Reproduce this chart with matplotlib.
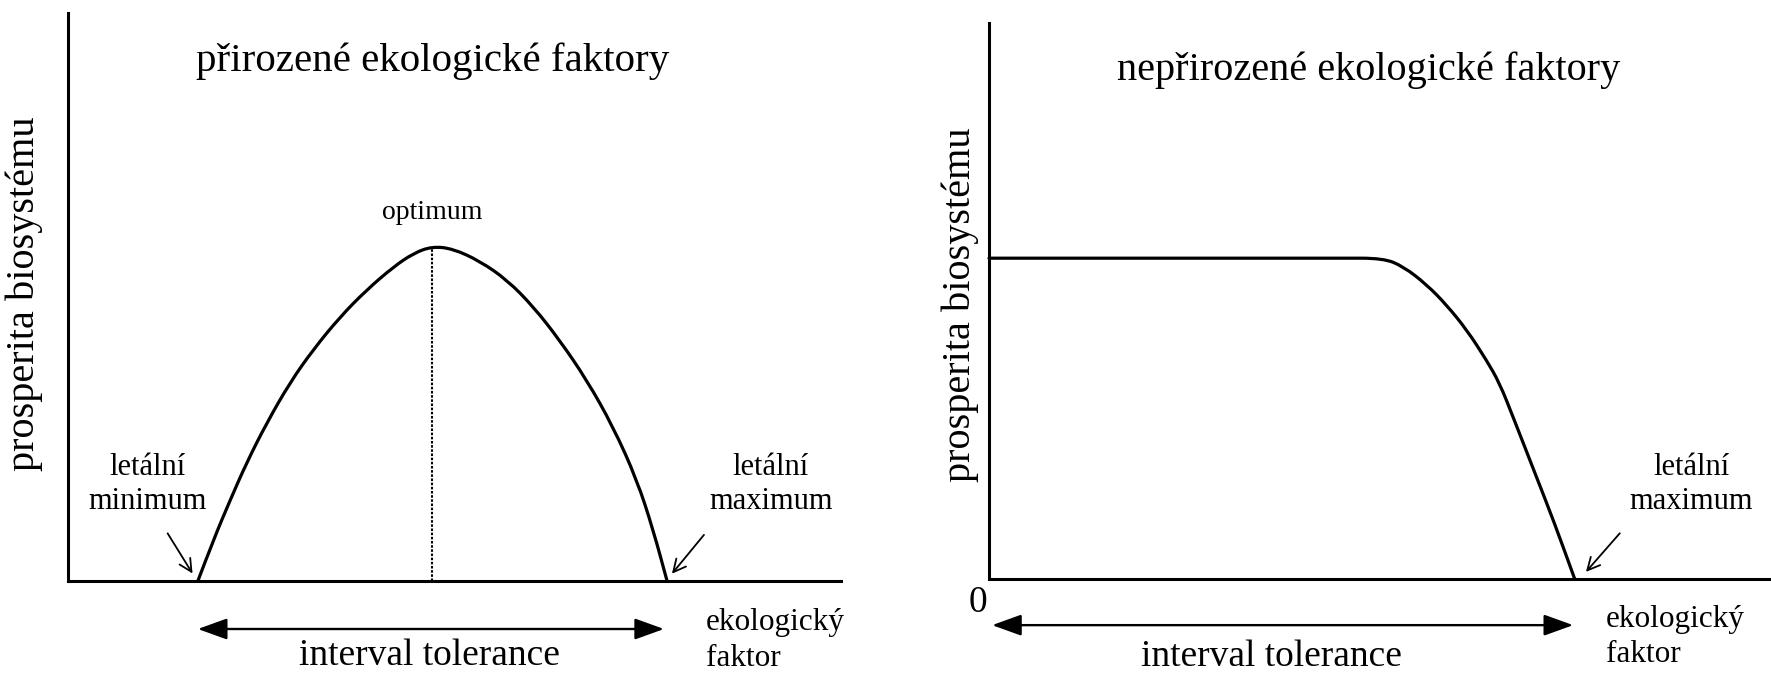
import matplotlib.pyplot as plt
import numpy as np
from matplotlib.path import Path
from matplotlib.patches import PathPatch

plt.rcParams["font.family"] = ["Liberation Serif", "DejaVu Serif"]

# prirozene faktory - krivka (osa 0..100)
prirozeneX = [16.8, 18.8, 21.0, 23.1, 25.7, 28.7, 31.7, 35.2, 38.6, 42.1, 44.7, 47.1,
              49.8, 53.3, 56.8, 60.2, 63.6, 67.1, 70.5, 73.6, 75.7, 77.5]
prirozeneY = [0.0, 7.2, 14.3, 20.8, 27.8, 34.9, 40.7, 46.5, 51.2, 55.3, 57.7, 58.9,
              58.5, 56.3, 53.0, 48.3, 42.4, 35.4, 27.2, 17.8, 9.0, 0.0]
letalniMinimum = 16.8
optimumX = 47.1
optimumY = 58.7
letalniMaximumL = 77.5

# neprirozene faktory
neprirozeneX = [0.0, 44.9, 50.4, 53.0, 56.0, 58.5, 61.1, 63.6, 65.3, 67.0, 69.8, 72.3, 74.9]
neprirozeneY = [57.7, 57.7, 57.7, 56.2, 52.9, 49.3, 44.8, 39.4, 35.2, 29.2, 19.1, 10.1, 0.0]
letalniMaximumR = 74.9

titulky = ["přirozené ekologické faktory", "nepřirozené ekologické faktory"]
popisY = "prosperita biosystému"
popisX = "ekologický\nfaktor"
interval = "interval tolerance"


def hladkaKrivka(axe, xs, ys):
    # kvadraticky B-spline pres odectene body, kresli ho matplotlib jako Path
    body = np.column_stack([xs, ys])
    vrcholy = [body[0]]
    kody = [Path.MOVETO]
    for i in range(1, len(body) - 1):
        vrcholy += [body[i], (body[i] + body[i + 1]) / 2]
        kody += [Path.CURVE3, Path.CURVE3]
    vrcholy.append(body[-1])
    kody.append(Path.LINETO)
    axe.add_patch(PathPatch(Path(vrcholy, kody), fill=False, edgecolor="black",
                            lw=2.3, clip_on=False, capstyle="round"))


fig = plt.figure(figsize=(17.71, 6.76), dpi=100)
axL = fig.add_axes([68 / 1771, 1 - 581 / 676, 773 / 1771, 568 / 676])
axR = fig.add_axes([989 / 1771, 1 - 579 / 676, 782 / 1771, 556 / 676])

for axe in (axL, axR):
    axe.set_xlim(0, 100)
    axe.set_ylim(0, 100)
    axe.spines["top"].set_visible(False)
    axe.spines["right"].set_visible(False)
    axe.spines["left"].set_linewidth(2.2)
    axe.spines["bottom"].set_linewidth(2.2)
    axe.set_xticks([])
    axe.set_yticks([])
    axe.patch.set_alpha(0)

sipka = dict(arrowstyle="->, head_length=0.9, head_width=0.45", color="black", lw=1.3)
dvojSipka = dict(arrowstyle="<|-|>, head_length=1.8, head_width=0.65", color="black", lw=1.7,
                 shrinkA=0, shrinkB=0)

# levy panel
hladkaKrivka(axL, prirozeneX, prirozeneY)
axL.plot([optimumX, optimumX], [0, optimumY], color="black", lw=1.5, linestyle=(0, (1.2, 0.8)))
axL.text(47.2, 91.5, titulky[0], fontsize=29.5, ha="center", va="center")
axL.text(optimumX, 64.8, "optimum", fontsize=20, ha="center", va="center")
axL.text(10.3, 17.0, "letální\nminimum", fontsize=22, ha="center", va="center", linespacing=1.2)
axL.text(90.9, 17.0, "letální\nmaximum", fontsize=22, ha="center", va="center", linespacing=1.2)
axL.annotate("", xy=(letalniMinimum - 0.5, 0.9), xytext=(12.7, 8.8), arrowprops=sipka)
axL.annotate("", xy=(letalniMaximumL + 0.4, 0.9), xytext=(82.5, 8.5), arrowprops=sipka)
axL.annotate("", xy=(letalniMinimum, -8.45), xytext=(77.1, -8.45),
             arrowprops=dvojSipka, annotation_clip=False)
axL.text(46.7, -13.2, interval, fontsize=27, ha="center", va="center")
axL.text(82.5, -4.8, popisX, fontsize=22.5, ha="left", va="top", linespacing=1.3)
axL.text(-5.6, 50.5, popisY, fontsize=29, rotation=90, ha="center", va="center")

# pravy panel
hladkaKrivka(axR, neprirozeneX, neprirozeneY)
axR.text(48.5, 91.5, titulky[1], fontsize=29, ha="center", va="center")
axR.text(89.8, 17.0, "letální\nmaximum", fontsize=22, ha="center", va="center", linespacing=1.2)
axR.annotate("", xy=(letalniMaximumR + 1.2, 0.9), xytext=(80.9, 8.6), arrowprops=sipka)
axR.annotate("", xy=(0.4, -8.3), xytext=(74.7, -8.3),
             arrowprops=dvojSipka, annotation_clip=False)
axR.text(36.1, -14.0, interval, fontsize=27, ha="center", va="center")
axR.text(78.9, -4.6, popisX, fontsize=22.5, ha="left", va="top", linespacing=1.3)
axR.text(-3.7, 49.3, popisY, fontsize=29, rotation=90, ha="center", va="center")
axR.text(-1.4, -4.3, "0", fontsize=27, ha="center", va="center")

fig.savefig("out.png", dpi=100)
plt.close(fig)
